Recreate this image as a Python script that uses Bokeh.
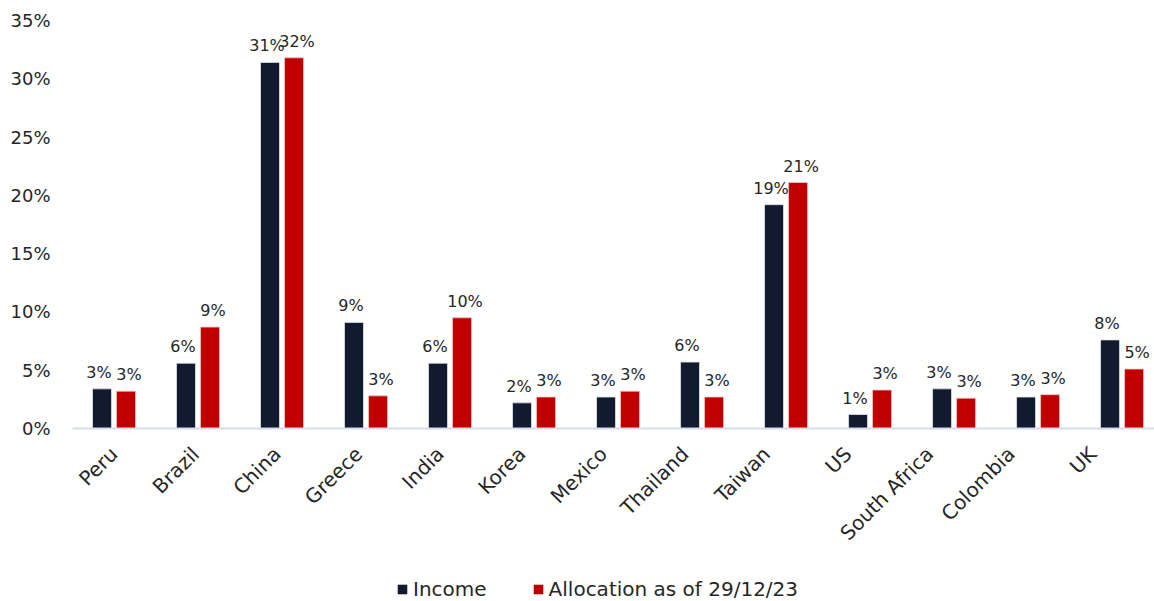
import math
from bokeh.plotting import figure
from bokeh.layouts import column
from bokeh.models import ColumnDataSource, FixedTicker, Legend, LegendItem, Range1d
from bokeh.core.properties import value
from bokeh.embed import file_html
from bokeh.resources import INLINE

countries = ["Peru", "Brazil", "China", "Greece", "India", "Korea", "Mexico",
             "Thailand", "Taiwan", "US", "South Africa", "Colombia", "UK"]
income = [3.4, 5.6, 31.4, 9.1, 5.6, 2.2, 2.7, 5.7, 19.2, 1.2, 3.4, 2.7, 7.6]
allocation = [3.2, 8.7, 31.8, 2.8, 9.5, 2.7, 3.2, 2.7, 21.1, 3.3, 2.6, 2.9, 5.1]
y_ticks = [0, 5, 10, 15, 20, 25, 30, 35]
series_names = ["Income", "Allocation as of 29/12/23"]

FONT = "DejaVu Sans"
NAVY = "#111a2e"
RED = "#c00000"
TXT = "#262626"
LABEL_SPREAD = 0.971   # category labels in the reference sit slightly tighter than the bars

xs = list(range(len(countries)))
src_inc = ColumnDataSource(dict(x=[i - 0.143 for i in xs], top=income,
                                lab=[f"{round(v)}%" for v in income]))
src_all = ColumnDataSource(dict(x=[i + 0.143 for i in xs], top=allocation,
                                lab=[f"{round(v)}%" for v in allocation]))

p = figure(frame_width=1082, frame_height=408, output_backend="svg",
           toolbar_location=None,
           x_range=Range1d(-0.494, 12.386), y_range=Range1d(0, 35),
           min_border_left=72, min_border_right=0, min_border_top=20,
           min_border_bottom=142)
p.outline_line_color = None
p.xgrid.visible = False
p.ygrid.visible = False
p.background_fill_color = "white"

p.vbar(x="x", top="top", width=0.226, source=src_inc, fill_color=NAVY,
       line_color="#dfe3ea", line_width=0.8)
p.vbar(x="x", top="top", width=0.226, source=src_all, fill_color=RED,
       line_color="#f0c0c0", line_width=0.8)

for src, dx in ((src_inc, -3), (src_all, 3)):
    p.text(x="x", y="top", text="lab", source=src, text_align="center",
           text_baseline="bottom", x_offset=dx, y_offset=-7, text_font=value(FONT),
           text_font_size="16px", text_color=TXT)

# y axis
p.yaxis.ticker = FixedTicker(ticks=y_ticks)
p.yaxis.major_label_overrides = {t: f"{t}%" for t in y_ticks}
p.yaxis.axis_line_color = None
p.yaxis.major_tick_line_color = None
p.yaxis.minor_tick_line_color = None
p.yaxis.major_label_standoff = 16
p.yaxis.major_label_text_font = FONT
p.yaxis.major_label_text_font_size = "18px"
p.yaxis.major_label_text_color = TXT

# x axis
tick_pos = [round(i * LABEL_SPREAD, 4) for i in xs]
p.xaxis.ticker = FixedTicker(ticks=tick_pos)
p.xaxis.major_label_overrides = {t: c for t, c in zip(tick_pos, countries)}
p.xaxis.major_label_orientation = math.pi / 4
p.xaxis.axis_line_color = "#d6dcea"
p.xaxis.axis_line_width = 2
p.xaxis.major_tick_line_color = None
p.xaxis.minor_tick_line_color = None
p.xaxis.major_label_standoff = 16
p.xaxis.major_label_text_font = FONT
p.xaxis.major_label_text_font_size = "20px"
p.xaxis.major_label_text_color = TXT

# legend strip below the chart (series kept far out of view, only legend glyphs show)
lg = figure(width=1154, height=31, output_backend="svg", toolbar_location=None,
            x_range=Range1d(1000, 1001), y_range=Range1d(1000, 1001),
            min_border_left=0, min_border_right=0, min_border_top=0,
            min_border_bottom=0)
lg.axis.visible = False
lg.grid.visible = False
lg.outline_line_color = None
g1 = lg.vbar(x="x", top="top", width=0.226, source=src_inc,
             fill_color=NAVY, line_color=None)
g2 = lg.vbar(x="x", top="top", width=0.226, source=src_all,
             fill_color=RED, line_color=None)
legend = Legend(items=[LegendItem(label=series_names[0], renderers=[g1]),
                       LegendItem(label=series_names[1], renderers=[g2])],
                orientation="horizontal", location=(324, 0),
                label_text_font=FONT, label_text_font_size="20px",
                label_text_color=TXT, glyph_width=12, glyph_height=12,
                spacing=45, label_standoff=5, border_line_color=None,
                background_fill_alpha=0, margin=0, padding=0)
lg.add_layout(legend, "center")

layout = column(p, lg, spacing=0)
open("out.html", "w").write(file_html(layout, INLINE))
